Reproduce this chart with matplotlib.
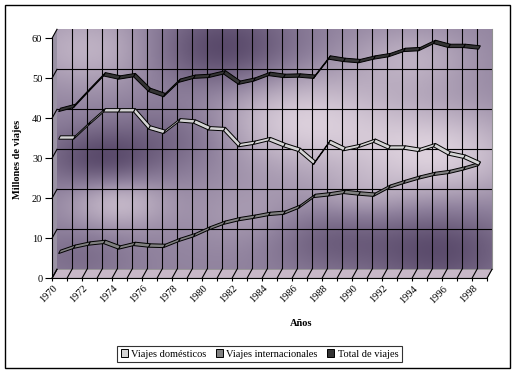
import matplotlib
matplotlib.use("Agg")
import matplotlib.pyplot as plt
import numpy as np
from matplotlib.colors import LinearSegmentedColormap
from matplotlib.lines import Line2D
from matplotlib.patches import Patch, Polygon, Rectangle
from matplotlib.transforms import IdentityTransform, ScaledTranslation

# --- Data (millones de viajes) -------------------------------------------
years = list(range(1970, 1999))
domesticos = [35.2, 35.2, 38.7, 42.0, 42.0, 42.0, 37.7, 36.6, 39.5, 39.2,
              37.5, 37.3, 33.3, 33.9, 34.8, 33.3, 32.1, 28.9, 34.1, 32.3,
              33.1, 34.4, 32.7, 32.7, 32.1, 33.3, 31.2, 30.4, 28.7]
internacionales = [6.6, 7.9, 8.7, 9.1, 7.7, 8.6, 8.2, 8.1, 9.6, 10.8,
                   12.5, 13.9, 14.8, 15.4, 16.1, 16.4, 17.9, 20.6, 21.0, 21.6,
                   21.2, 20.9, 22.9, 24.1, 25.2, 26.1, 26.6, 27.5, 28.6]
total = [42.1, 43.1, 47.1, 51.0, 50.2, 50.8, 47.1, 45.8, 49.4, 50.4,
         50.6, 51.5, 48.9, 49.7, 51.1, 50.6, 50.7, 50.4, 55.2, 54.6,
         54.3, 55.2, 55.8, 57.1, 57.3, 59.1, 58.1, 58.1, 57.7]
series_names = ["Viajes domésticos", "Viajes internacionales", "Total de viajes"]
series_colors = ["#d4d4d4", "#808080", "#333333"]

W, H = 516, 372
SERIF = "Liberation Serif"
FS = 7.5


def box(x0, y0, x1, y1):
    """pixel box (top-left origin) -> figure fraction rect"""
    return [x0 / W, 1 - y1 / H, (x1 - x0) / W, (y1 - y0) / H]


def fpx(x, y):
    return (x / W, 1 - y / H)


fig = plt.figure(figsize=(W / 100, H / 100), dpi=100)
fig.add_artist(Rectangle(fpx(5, 368), 505 / W, 363 / H, transform=fig.transFigure,
                         fill=False, edgecolor="black", linewidth=1.0))

# --- Back wall with textured gradient ------------------------------------
back = fig.add_axes(box(57, 29.3, 492, 269.3))
back.set_xlim(-0.5, len(years) - 0.5)
back.set_ylim(0, 60)
gx, gy = np.meshgrid(np.linspace(0, 1, 300), np.linspace(0, 1, 200))
blobs = [(0.08, 0.92, 0.6, 0.12), (0.56, 0.62, 0.9, 0.15), (0.88, 0.48, 0.9, 0.14),
         (0.82, 0.88, 0.5, 0.10), (0.14, 0.28, 0.7, 0.08), (0.45, 0.22, 0.3, 0.10),
         (0.38, 0.92, -0.9, 0.12), (0.10, 0.46, -0.8, 0.09), (0.88, 0.08, -0.8, 0.12),
         (0.28, 0.55, -0.4, 0.10), (0.62, 0.12, -0.5, 0.10), (0.05, 0.05, -0.3, 0.08),
         (0.70, 0.30, 0.3, 0.08)]
field = np.zeros_like(gx)
for bx, by, amp, sig in blobs:
    field += amp * np.exp(-((gx - bx) ** 2 + (gy - by) ** 2) / (2 * sig ** 2))
cmap = LinearSegmentedColormap.from_list("marble", ["#4c3c5e", "#8e809c", "#dcd0dc"])
back.imshow(np.clip(0.52 + field / 2, 0, 1), cmap=cmap, vmin=0, vmax=1, origin="lower",
            extent=(-0.5, len(years) - 0.5, 0, 60), aspect="auto", interpolation="bilinear")
for v in range(10, 60, 10):
    back.axhline(v, color="black", linewidth=0.8)
for k in range(1, len(years)):
    back.axvline(k - 0.5, color="black", linewidth=0.8)
for s in back.spines.values():
    s.set_visible(False)
back.spines["right"].set_visible(True)
back.spines["right"].set_color("#909090")
back.set_xticks([])
back.set_yticks([])

# --- Front frame with axes, ticks and data ribbons ------------------------
ax = fig.add_axes(box(52, 38.3, 487, 278.3))
ax.patch.set_visible(False)
ax.set_xlim(-0.5, len(years) - 0.5)
ax.set_ylim(0, 60)
for side in ("top", "right"):
    ax.spines[side].set_visible(False)
for side in ("left", "bottom"):
    ax.spines[side].set_linewidth(0.8)

# side wall and floor
ident = IdentityTransform()
corners_l = [ax.transData.transform((-0.5, 60)), back.transData.transform((-0.5, 60)),
             back.transData.transform((-0.5, 0)), ax.transData.transform((-0.5, 0))]
fig.add_artist(Polygon(corners_l, closed=True, transform=ident, facecolor="#9a92a4",
                       edgecolor="none", zorder=-1))
n = len(years)
corners_f = [ax.transData.transform((-0.5, 0)), back.transData.transform((-0.5, 0)),
             back.transData.transform((n - 0.5, 0)), ax.transData.transform((n - 0.5, 0))]
fig.add_artist(Polygon(corners_f, closed=True, transform=ident, facecolor="#c8b8c8",
                       edgecolor="#808080", linewidth=0.6, zorder=-1))
for v in range(0, 70, 10):
    p0 = ax.transData.transform((-0.5, v))
    p1 = back.transData.transform((-0.5, v))
    fig.add_artist(Line2D([p0[0], p1[0]], [p0[1], p1[1]], transform=ident,
                          color="black", linewidth=0.8))
for k in range(n + 1):
    p0 = ax.transData.transform((k - 0.5, 0))
    p1 = back.transData.transform((k - 0.5, 0))
    fig.add_artist(Line2D([p0[0], p1[0]], [p0[1], p1[1]], transform=ident,
                          color="black", linewidth=0.8))


def ribbon(x, y, face, dx=0.12, dy=0.85):
    for i in range(len(x) - 1):
        xs = [x[i] - dx / 2, x[i + 1] - dx / 2, x[i + 1] + dx / 2, x[i] + dx / 2]
        ys = [y[i] - dy / 2, y[i + 1] - dy / 2, y[i + 1] + dy / 2, y[i] + dy / 2]
        ax.fill(xs, ys, facecolor=face, edgecolor="black", linewidth=0.7)


xpos = np.arange(n)
ribbon(xpos, internacionales, series_colors[1])
ribbon(xpos, domesticos, series_colors[0])
ribbon(xpos, total, series_colors[2])

ax.set_yticks(range(0, 70, 10))
ax.tick_params(axis="y", length=5, width=0.8, pad=2, labelsize=FS)
ax.set_xticks(xpos[::2], [str(y) for y in years[::2]], rotation=45,
              ha="right", rotation_mode="anchor")
ax.set_xticks(np.arange(n + 1) - 0.5, minor=True)
ax.tick_params(axis="x", which="major", length=0, pad=4, labelsize=FS)
ax.tick_params(axis="x", which="minor", length=2.5, width=0.8)
shift = ScaledTranslation(-0.065, 0, fig.dpi_scale_trans)
for lab in ax.get_xticklabels():
    lab.set_transform(lab.get_transform() + shift)
for lab in ax.get_xticklabels() + ax.get_yticklabels():
    lab.set_fontfamily(SERIF)

fig.text(18 / W, 1 - 159 / H, "Millones de viajes", rotation=90, ha="center",
         va="center", fontsize=FS, fontweight="bold", fontfamily=SERIF)
fig.text(301 / W, 1 - 323 / H, "Años", ha="center", va="center",
         fontsize=FS, fontweight="bold", fontfamily=SERIF)

handles = [Patch(facecolor=c, edgecolor="black", linewidth=0.7) for c in series_colors]
leg = fig.legend(handles, series_names, loc="center", bbox_to_anchor=fpx(259.5, 354),
                 ncol=3, frameon=True, fancybox=False, shadow=False,
                 prop={"family": SERIF, "size": FS}, handlelength=0.7, handleheight=0.7,
                 handletextpad=0.3, columnspacing=0.9, borderpad=0.35, borderaxespad=0)
leg.get_frame().set_edgecolor("black")
leg.get_frame().set_linewidth(0.8)

fig.savefig("out.png", dpi=100)
